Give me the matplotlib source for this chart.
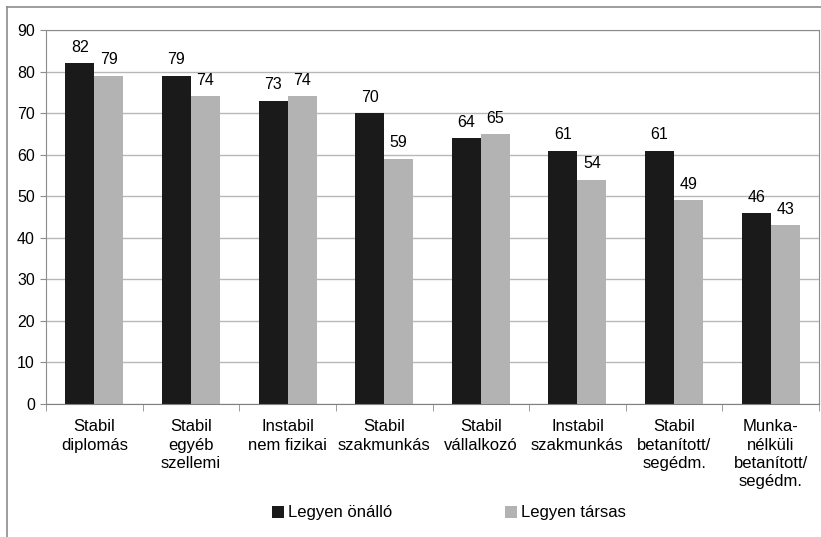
import matplotlib.pyplot as plt
import numpy as np
from matplotlib.lines import Line2D

plt.rcParams['font.family'] = ['Liberation Sans', 'DejaVu Sans']

categories = ["Stabil\ndiplomás", "Stabil\negyéb\nszellemi", "Instabil\nnem fizikai",
              "Stabil\nszakmunkás", "Stabil\nvállalkozó", "Instabil\nszakmunkás",
              "Stabil\nbetanított/\nsegédm.", "Munka-\nnélküli\nbetanított/\nsegédm."]
onallo = [82, 79, 73, 70, 64, 61, 61, 46]
tarsas = [79, 74, 74, 59, 65, 54, 49, 43]
series_names = ["Legyen önálló", "Legyen társas"]

dark = '#1a1a1a'
light = '#b3b3b3'
axis_gray = '#8c8c8c'

fig = plt.figure(figsize=(8.21, 5.37), dpi=100)
ax = fig.add_axes([46 / 821, 1 - 404 / 537, (819 - 46) / 821, (404 - 30) / 537])

x = np.arange(len(categories))
w = 0.3
b1 = ax.bar(x - w / 2, onallo, w, color=dark, label=series_names[0])
b2 = ax.bar(x + w / 2, tarsas, w, color=light, label=series_names[1])

for bars, vals in ((b1, onallo), (b2, tarsas)):
    for rect, v in zip(bars, vals):
        ax.annotate(str(v), (rect.get_x() + rect.get_width() / 2, v),
                    textcoords="offset points", xytext=(0, 6),
                    ha='center', va='bottom', fontsize=11.5)

ax.set_xlim(-0.5, len(categories) - 0.5)
ax.set_ylim(0, 90)
ax.set_yticks(range(0, 91, 10))
ax.yaxis.grid(True, color='#b8b8b8', linewidth=1)
ax.set_axisbelow(True)

# category labels in the middle, tick marks on the boundaries
ax.set_xticks(x)
ax.set_xticklabels(categories, fontsize=12, linespacing=1.27)
ax.tick_params(axis='x', length=0, pad=11)
ax.set_xticks(np.arange(-0.5, len(categories)), minor=True)
ax.tick_params(axis='x', which='minor', length=5, color=axis_gray, direction='out')
ax.tick_params(axis='y', labelsize=11.5, length=4, color=axis_gray, pad=4)

for side in ('top', 'right', 'left'):
    ax.spines[side].set_color(axis_gray)
ax.spines['bottom'].set_color('#808080')

fig.legend(handles=[b1, b2], loc='center', bbox_to_anchor=(449 / 821, 1 - 513 / 537),
           ncol=2, frameon=False, fontsize=12, handlelength=0.7, handleheight=0.7,
           handletextpad=0.25, columnspacing=6.8)

# outer chart border
fig.add_artist(Line2D([7 / 821, 7 / 821], [0, 1 - 7 / 537], color=axis_gray, linewidth=1.2))
fig.add_artist(Line2D([7 / 821, 1], [1 - 7 / 537, 1 - 7 / 537], color=axis_gray, linewidth=1.2))

fig.savefig("out.png", dpi=100)
